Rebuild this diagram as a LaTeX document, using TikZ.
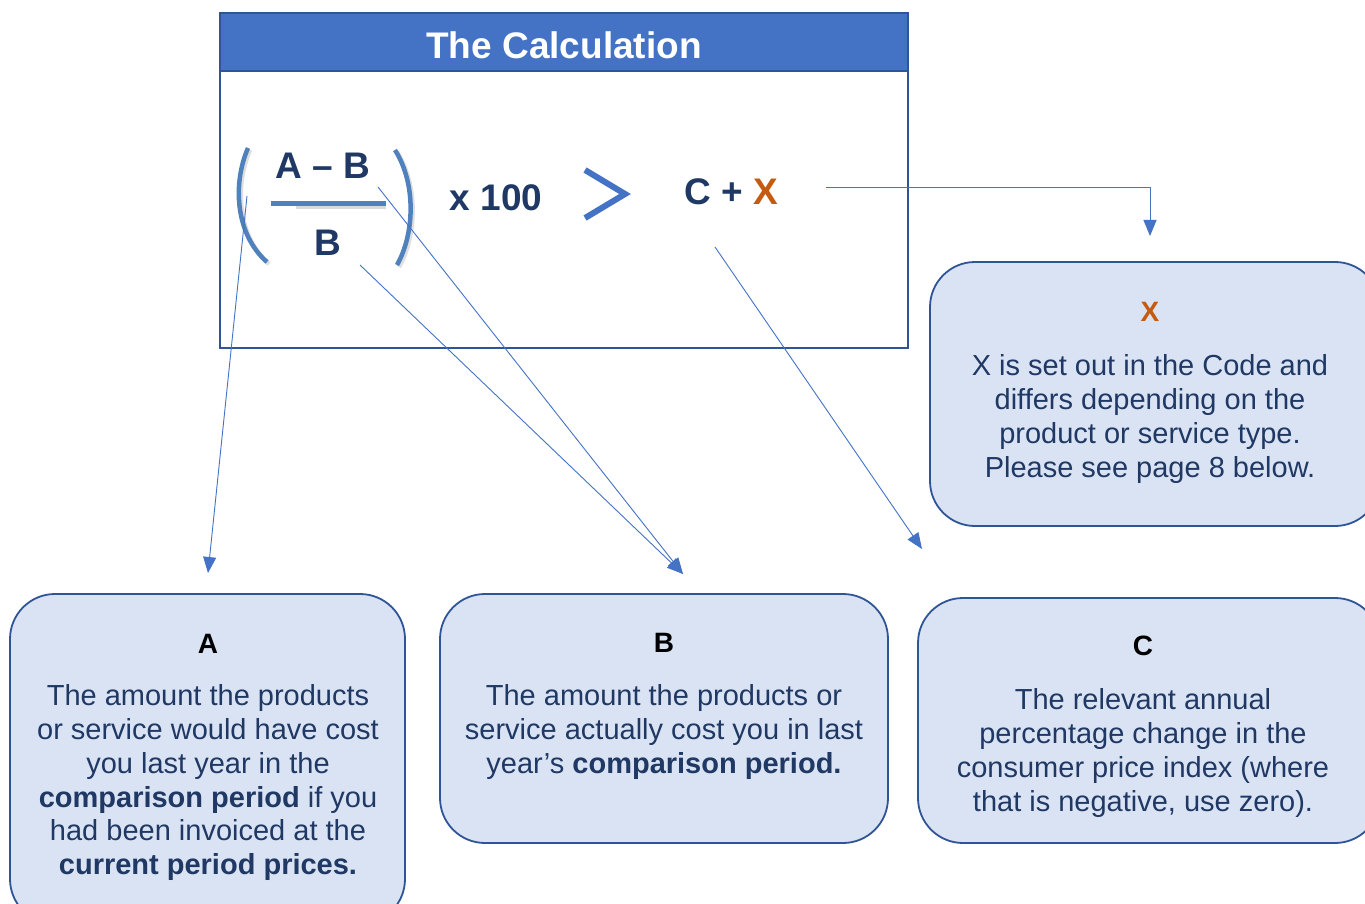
\documentclass[tikz,border=0pt]{standalone}
\usepackage{fontspec}
\setmainfont{Liberation Sans}
\usetikzlibrary{arrows.meta}
\definecolor{hdrblue}{HTML}{4472C4}
\definecolor{edgeblue}{HTML}{2F5597}
\definecolor{boxfill}{HTML}{DAE3F3}
\definecolor{navy}{HTML}{1F3864}
\definecolor{parblue}{HTML}{4F81BD}
\definecolor{xorange}{HTML}{C55A11}
\tikzset{
  infobox/.style={draw=edgeblue, line width=1.8pt, fill=boxfill, rounded corners=45pt, inner sep=0pt},
  conn/.style={draw=hdrblue, line width=0.9pt, -{Triangle[length=16pt,width=13pt]}},
  formula/.style={font=\fontsize{37}{44}\selectfont\bfseries, text=navy, anchor=base, inner sep=0pt},
  boxtitle/.style={font=\fontsize{28}{32}\selectfont\bfseries, text=black, anchor=base, inner sep=0pt},
  boxbody/.style={font=\fontsize{29}{33.8}\selectfont, text=navy, align=center, anchor=north, inner sep=0pt},
}
\begin{document}
\begin{tikzpicture}[x=1pt,y=-1pt]
\useasboundingbox (0,0) rectangle (1365,904);
\clip (0,0) rectangle (1365,904);
\fill[white] (0,0) rectangle (1365,904);

% main calculation box
\node[draw=edgeblue, line width=2pt, fill=white, minimum width=688, minimum height=335, inner sep=0pt] (calc) at (564,180.5) {};
\fill[hdrblue] (221,14) rectangle (907,71);
\draw[edgeblue, line width=2pt] (220,13) rectangle (908,348);
\draw[edgeblue, line width=2pt] (220,71) -- (908,71);
\node[font=\fontsize{37}{44}\selectfont\bfseries, text=white, anchor=base, inner sep=0pt] (title) at (564,59) {The Calculation};

% formula
\draw[gray!25, line width=4.5pt] (250,150) .. controls (234,187) and (238,237) .. (269,264);
\draw[gray!25, line width=4.5pt] (397,152) .. controls (419,187) and (416,237) .. (399,267);
\draw[parblue, line width=4.5pt] (248,148) .. controls (232,185) and (236,235) .. (267,262);
\draw[parblue, line width=4.5pt] (395,150) .. controls (417,185) and (414,235) .. (397,265);
\draw[gray!30, line width=3pt] (296,208) -- (386,208);
\draw[parblue, line width=5pt] (271,204) -- (386,204);
\node[formula] (ab) at (323,179) {A – B};
\node[formula] (b) at (328,255) {B};
\node[formula] (h) at (496,211) {x 100};
\draw[hdrblue, line width=6pt, miter limit=10] (585,170) -- (625,194) -- (585,218);
\node[formula] (cx) at (731,205) {C + \textcolor{xorange}{X}};

% boxes
\node[infobox, minimum width=395, minimum height=330] (boxA) at (207.5,759) {};
\node[infobox, minimum width=448, minimum height=249] (boxB) at (664,718.5) {};
\node[infobox, minimum width=462, minimum height=245] (boxC) at (1149,720.5) {};
\node[infobox, minimum width=450, minimum height=264] (boxX) at (1155,394) {};

\node[boxtitle] (tA) at (208,653) {A};
\node[boxbody] (bA) at (208,684.5) {The amount the products\\or service would have cost\\you last year in the\\\textbf{comparison period} if you\\had been invoiced at the\\\textbf{current period prices.}};

\node[boxtitle] (tB) at (664,652) {B};
\node[boxbody] (bB) at (664,684.5) {The amount the products or\\service actually cost you in last\\year’s \textbf{comparison period.}};

\node[boxtitle] (tC) at (1143,655) {C};
\node[boxbody] (bC) at (1143,688.5) {The relevant annual\\percentage change in the\\consumer price index (where\\that is negative, use zero).};

\node[boxtitle, text=xorange] (tX) at (1150,321) {X};
\node[boxbody] (bX) at (1150,354.5) {X is set out in the Code and\\differs depending on the\\product or service type.\\Please see page 8 below.};

% connector end points
\coordinate (sA) at (247,196);
\coordinate (eA) at (208,573);
\coordinate (sB1) at (378,187);
\coordinate (sB2) at (360,265);
\coordinate (eB) at (683,574);
\coordinate (sC) at (715,247);
\coordinate (eC) at (922,549);
\coordinate (sX) at (826,187);
\coordinate (eX) at (1150,236);

\draw[conn] (sA) -- (eA);
\draw[conn] (sB1) -- (eB);
\draw[conn] (sB2) -- (eB);
\draw[conn] (sC) -- (eC);
\draw[conn] (sX) -| (eX);
\end{tikzpicture}
\end{document}
